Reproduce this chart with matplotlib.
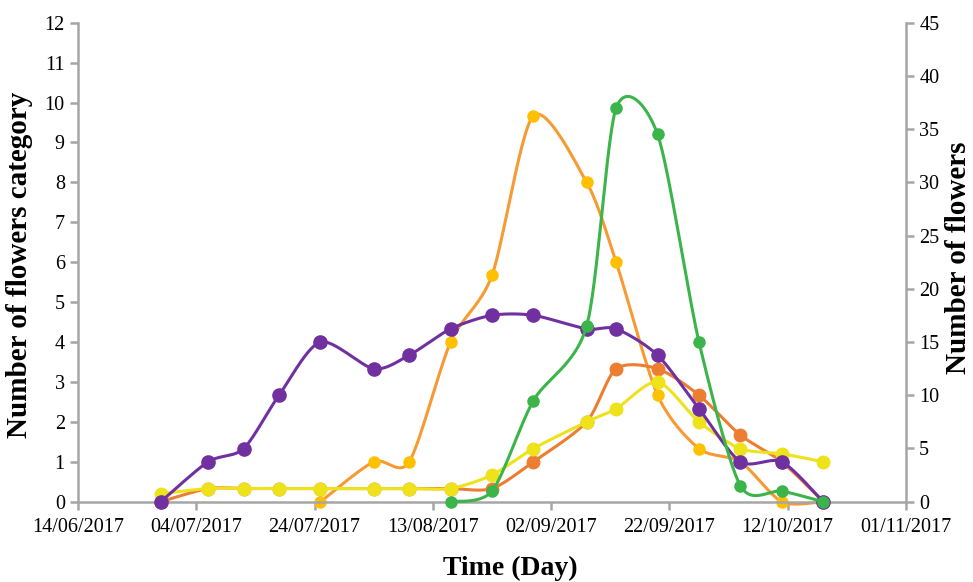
import numpy as np
import matplotlib.pyplot as plt
import matplotlib.dates as mdates
from datetime import date

# sampling dates
dates = [date(2017, 6, 28), date(2017, 7, 6), date(2017, 7, 12), date(2017, 7, 18),
         date(2017, 7, 25), date(2017, 8, 3), date(2017, 8, 9), date(2017, 8, 16),
         date(2017, 8, 23), date(2017, 8, 30), date(2017, 9, 8), date(2017, 9, 13),
         date(2017, 9, 20), date(2017, 9, 27), date(2017, 10, 4), date(2017, 10, 11),
         date(2017, 10, 18)]

# left axis series (flowers category)
purple = [0, 1, 1.33, 2.67, 4, 3.33, 3.67, 4.33, 4.67, 4.67, 4.33, 4.33, 3.67, 2.33, 1, 1, 0]
yellow = [0.2, 0.33, 0.33, 0.33, 0.33, 0.33, 0.33, 0.33, 0.67, 1.33, 2, 2.33, 3, 2, 1.33, 1.2, 1]
dark_orange = [0, 0.33, 0.33, 0.33, 0.33, 0.33, 0.33, 0.33, 0.33, 1, 2, 3.33, 3.33, 2.67, 1.67, 1, 0]
gold = [0, 1, 1, 4, 5.67, 9.67, 8, 6, 2.67, 1.33, 1, 0, 0]        # from 25/07
# right axis series (number of flowers)
green = [0, 1, 9.5, 16.5, 37, 34.5, 15, 1.5, 1, 0]               # from 16/08

xticks = [date(2017, 6, 14), date(2017, 7, 4), date(2017, 7, 24), date(2017, 8, 13),
          date(2017, 9, 2), date(2017, 9, 22), date(2017, 10, 12), date(2017, 11, 1)]


def smooth(x, y, n=30, k=7.5):
    # Excel-like smoothed line (cardinal spline drawn as cubic Bezier)
    x = np.asarray(x, float)
    y = np.asarray(y, float)
    px = np.concatenate([[x[0]], x, [x[-1]]])
    py = np.concatenate([[y[0]], y, [y[-1]]])
    t = np.linspace(0, 1, n)[:, None]
    xs, ys = [], []
    for i in range(1, len(px) - 2):
        p0 = np.array([px[i], py[i]])
        p3 = np.array([px[i + 1], py[i + 1]])
        c1 = p0 + (p3 - np.array([px[i - 1], py[i - 1]])) / k
        c2 = p3 - (np.array([px[i + 2], py[i + 2]]) - p0) / k
        pts = ((1 - t) ** 3) * p0 + 3 * ((1 - t) ** 2) * t * c1 + 3 * (1 - t) * t ** 2 * c2 + t ** 3 * p3
        xs.append(pts[:, 0])
        ys.append(pts[:, 1])
    return np.concatenate(xs), np.concatenate(ys)


plt.rcParams['font.family'] = ['Liberation Serif', 'DejaVu Serif']
grey = '#A6A6A6'

fig = plt.figure(figsize=(9.73, 5.82), dpi=100)
ax = fig.add_axes([78 / 973, 1 - 501.7 / 582, (906 - 78) / 973, (501.7 - 22.7) / 582])
ax2 = ax.twinx()

xd = mdates.date2num(dates)


def draw(a, x, y, line_c, mark_c, ms, z):
    sx, sy = smooth(x, y)
    a.plot(sx, sy, color=line_c, lw=2.2, zorder=z, clip_on=False, solid_capstyle='round')
    a.plot(x, y, 'o', color=mark_c, ms=ms, zorder=z + 0.5, clip_on=False)


draw(ax, xd[4:], gold, '#F79A33', '#FFC000', 8, 2)
draw(ax, xd, dark_orange, '#ED7D31', '#ED7D31', 9, 3)
draw(ax, xd, yellow, '#EEE21A', '#EEE21A', 9, 4)
draw(ax, xd, purple, '#7030A0', '#7030A0', 9.5, 5)
draw(ax2, xd[7:], green, '#3BB44A', '#3BB44A', 8, 6)

ax.set_xlim(mdates.date2num(date(2017, 6, 14)), mdates.date2num(date(2017, 11, 1)))
ax.set_xticks(mdates.date2num(xticks))
ax.xaxis.set_major_formatter(mdates.DateFormatter('%d/%m/%Y'))
ax.set_ylim(0, 12)
ax.set_yticks(range(0, 13))
ax2.set_ylim(0, 45)
ax2.set_yticks(range(0, 46, 5))

for a in (ax, ax2):
    a.patch.set_visible(False)
    a.spines['top'].set_visible(False)
    for s in ('left', 'right', 'bottom'):
        a.spines[s].set_color(grey)
        a.spines[s].set_linewidth(1.8)
    a.tick_params(colors=grey, labelcolor='black', labelsize=14.5, width=1.8, length=6)
ax.spines['right'].set_visible(False)
ax2.spines['left'].set_visible(False)
ax2.spines['bottom'].set_visible(False)
ax.tick_params(axis='x', pad=6)

fig.text(20 / 973, 1 - 265 / 582, 'Number of flowers category', rotation=90,
         fontsize=21, fontweight='bold', ha='center', va='center')
fig.text(958 / 973, 1 - 258 / 582, 'Number of flowers', rotation=90,
         fontsize=21, fontweight='bold', ha='center', va='center')
fig.text(510 / 973, 1 - 568 / 582, 'Time (Day)', fontsize=20, fontweight='bold',
         ha='center', va='center')

fig.savefig('out.png', dpi=100)
